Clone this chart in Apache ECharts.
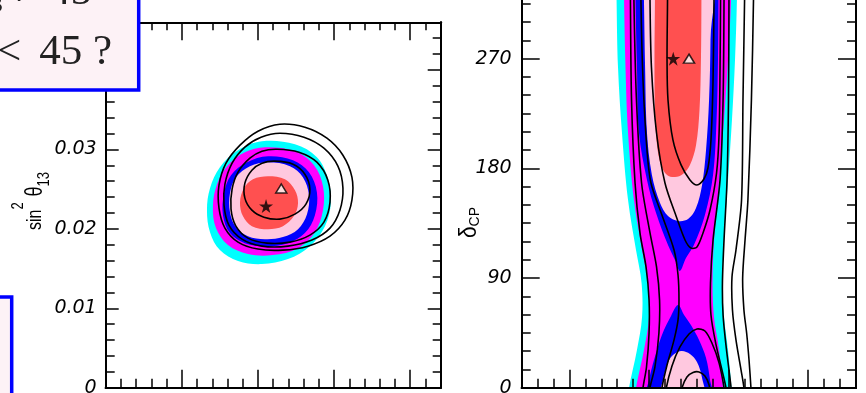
<!DOCTYPE html>
<html>
<head>
<meta charset="utf-8">
<script src="https://cdn.jsdelivr.net/npm/echarts@6/dist/echarts.min.js"></script>
<style>
  html, body { margin: 0; padding: 0; background: #ffffff; }
  #chart { width: 866px; height: 393px; }
</style>
</head>
<body>
<div id="chart"></div>
<script>
// ---------- axes ----------
const t23RangeL = [35, 57];          // theta23 (deg), left panel
const t23RangeR = [37, 58];          // theta23 (deg), right panel
const s13Range = [0, 0.046];         // sin^2 theta13
const dcpRange = [0, 360];           // delta_CP (deg)
const t23MajorL = [35, 40, 45, 50, 55];
const t23MajorR = [40, 45, 50, 55];
const s13Ticks = [0, 0.01, 0.02, 0.03, 0.04];
const s13Labels = ['0', '0.01', '0.02', '0.03', '0.04'];
const dcpTicks = [0, 90, 180, 270, 360];
const dcpLabelTicks = [0, 90, 180, 270];
const dcpLabels = ['0', '90', '180', '270'];

// ---------- left panel: sin^2 theta13 vs theta23 ----------
const cyanL = [[45.26,0.03103],[47.43,0.03065],[48.87,0.02902],[49.59,0.02638],[49.79,0.02336],[49.40,0.02034],[48.41,0.01782],[46.97,0.01619],[45.26,0.01556],[43.69,0.01594],[42.50,0.01732],[41.85,0.01958],[41.65,0.02235],[41.85,0.02512],[42.50,0.02776],[43.69,0.02990]];
const magentaL = [[45.46,0.03028],[47.43,0.02977],[48.68,0.02801],[49.27,0.02537],[49.27,0.02235],[48.74,0.01958],[47.63,0.01757],[45.98,0.01669],[44.34,0.01682],[43.03,0.01795],[42.24,0.02009],[42.04,0.02285],[42.31,0.02562],[43.03,0.02801],[44.14,0.02965]];
const blueL = [[45.66,0.02914],[47.30,0.02864],[48.35,0.02713],[48.87,0.02462],[48.74,0.02172],[48.08,0.01946],[46.97,0.01820],[45.52,0.01782],[44.14,0.01820],[43.16,0.01946],[42.70,0.02172],[42.77,0.02449],[43.23,0.02675],[44.28,0.02839]];
const pinkL = [[45.66,0.02839],[47.10,0.02789],[47.95,0.02650],[48.35,0.02424],[48.22,0.02185],[47.63,0.01996],[46.64,0.01896],[45.46,0.01870],[44.34,0.01908],[43.55,0.02021],[43.16,0.02210],[43.16,0.02449],[43.55,0.02650],[44.47,0.02789]];
const redL = [[45.66,0.02663],[46.77,0.02625],[47.43,0.02487],[47.63,0.02323],[47.36,0.02160],[46.64,0.02034],[45.66,0.01996],[44.60,0.02034],[44.01,0.02160],[43.82,0.02336],[44.08,0.02512],[44.67,0.02625]];
const loop1L = [[46.44,0.03317],[48.08,0.03279],[49.53,0.03141],[50.58,0.02927],[51.17,0.02650],[51.17,0.02361],[50.71,0.02109],[49.73,0.01908],[48.28,0.01782],[46.64,0.01732],[45.00,0.01745],[43.69,0.01833],[42.83,0.02009],[42.44,0.02260],[42.44,0.02550],[42.90,0.02826],[43.82,0.03053],[45.00,0.03229]];
const loop2L = [[46.44,0.03204],[48.02,0.03153],[49.33,0.03015],[50.25,0.02789],[50.58,0.02512],[50.38,0.02235],[49.73,0.02009],[48.54,0.01858],[46.97,0.01782],[45.26,0.01782],[43.95,0.01870],[43.09,0.02046],[42.77,0.02298],[42.83,0.02562],[43.30,0.02826],[44.14,0.03028],[45.20,0.03153]];
const loop3L = [[46.25,0.03002],[47.69,0.02965],[48.87,0.02839],[49.59,0.02613],[49.73,0.02336],[49.33,0.02084],[48.41,0.01921],[47.10,0.01833],[45.59,0.01820],[44.34,0.01883],[43.55,0.02034],[43.23,0.02248],[43.30,0.02499],[43.69,0.02713],[44.47,0.02889],[45.26,0.02977]];
const loop4L = [[46.11,0.02852],[47.30,0.02814],[48.08,0.02688],[48.41,0.02499],[48.15,0.02311],[47.43,0.02185],[46.44,0.02122],[45.39,0.02147],[44.60,0.02235],[44.14,0.02386],[44.14,0.02575],[44.60,0.02738],[45.26,0.02826]];
const bestFitL = [45.53, 0.02286];
const altFitL = [46.53, 0.02508];

// ---------- right panel: delta_CP vs theta23 ----------
const cyanR = [[42.92,360],[42.96,318],[43.05,263],[43.30,209],[43.68,154],[44.18,113],[44.53,86],[44.56,58],[44.24,31],[43.74,0],[43.68,-10],[50.21,-10],[50.18,0],[49.96,31],[49.71,58],[49.61,86],[49.71,121],[49.96,170],[50.21,220],[50.40,269],[50.52,318],[50.56,360]];
const magentaR = [[43.39,360],[43.43,318],[43.52,263],[43.68,209],[44.05,154],[44.56,113],[44.93,86],[45.00,58],[44.68,31],[44.18,0],[44.12,-10],[49.71,-10],[49.65,0],[49.40,31],[49.08,58],[48.99,86],[49.08,121],[49.40,170],[49.71,220],[49.96,269],[50.15,318],[50.18,360]];
const blueRUp = [[44.12,360],[44.15,318],[44.24,263],[44.37,209],[44.87,170.5],[45.44,143.4],[46.19,117.1],[46.69,103.2],[46.94,95.8],[47.32,106.4],[47.82,117.1],[48.51,141.7],[49.02,174.6],[49.24,219.7],[49.33,268.9],[49.36,318],[49.36,360]];
const blueRLow = [[46.82,67.9],[47.20,59.7],[47.63,51.5],[48.14,39.2],[48.58,24.4],[48.83,6.3],[48.95,-10],[44.81,-10],[45.00,6.3],[45.31,22.7],[45.81,43.3],[46.38,58.9]];
const pinkRUp = [[44.62,360],[44.68,318],[44.75,263],[44.87,209],[45.18,174.6],[45.69,151.6],[46.19,140.9],[46.82,136.8],[47.45,138.4],[47.95,147.5],[48.33,166.4],[48.58,195.1],[48.77,236.1],[48.86,285.4],[48.89,360]];
const pinkRLow = [[46.44,26.0],[47.01,30.1],[47.57,27.7],[48.01,21.1],[48.33,8.0],[48.45,-10],[45.69,-10],[45.88,6.3],[46.13,18.6]];
const redR = [[45.37,360],[45.37,318],[45.34,269],[45.37,228],[45.50,199],[45.75,182.8],[46.13,174.6],[46.63,172.9],[47.13,175.4],[47.57,182.8],[47.95,199],[48.17,228],[48.26,269],[48.29,318],[48.29,360]];
const lineRA = [[43.83,360],[43.83,318],[43.90,236],[44.12,168],[44.43,127],[44.81,99.1],[45.00,72.0],[45.00,44.9],[44.84,17.0],[44.62,0],[44.56,-10]];
const lineRB = [[44.05,360],[44.05,318],[44.21,236],[44.53,168],[45.06,127],[45.47,99.1],[45.66,72.0],[45.62,44.9],[45.37,17.0],[45.06,0],[45.00,-10]];
const lineRC = [[44.49,360],[44.49,318],[44.62,252.5],[44.87,195.1],[45.12,168.0],[45.81,141.7],[46.57,113.0],[46.82,92.5],[46.88,72.0],[46.82,55.6],[46.57,39.2],[46.13,18.6],[45.81,0],[45.75,-10]];
const loopRU2 = [[45.06,360],[45.06,318],[45.15,263],[45.47,209],[46.00,168],[46.72,140.1],[47.26,121.2],[47.63,114.6],[48.01,115.5],[48.39,127.0],[48.83,145.8],[49.24,176.2],[49.40,209],[49.46,263],[49.49,318],[49.49,360]];
const loopRU1 = [[46.16,360],[46.16,318],[46.13,268.9],[46.19,236.1],[46.50,203.3],[47.01,182.8],[47.57,170.5],[48.01,166.4],[48.45,171.3],[48.70,180.3],[48.89,203.3],[49.02,252.5],[49.08,318],[49.08,360]];
const lineRR1 = [[49.71,360],[49.71,318],[49.65,236.1],[49.46,170.5],[49.02,121.2],[48.86,85.9],[48.89,59.7],[49.21,35.1],[49.58,14.5],[49.83,0],[49.90,-10]];
const lineRR2 = [[50.02,360],[50.02,318],[49.99,236.1],[49.90,170.5],[49.71,121.2],[49.61,85.9],[49.65,59.7],[49.83,35.1],[50.02,14.5],[50.15,0],[50.18,-10]];
const lineRW1 = [[51.03,360],[51.00,318],[50.90,236.1],[50.81,154.0],[50.46,113.0],[50.21,90.9],[50.24,63.8],[50.46,39.2],[50.78,14.5],[50.96,0],[51.00,-10]];
const lineRW2 = [[51.59,360],[51.56,318],[51.43,236.1],[51.21,154.0],[51.03,121.2],[50.88,90.0],[50.96,63.8],[51.13,44.9],[51.28,22.7],[51.40,0],[51.43,-10]];
const loopRL1 = [[46.06,-10],[46.06,-1.8],[46.44,17.8],[46.94,33.4],[47.51,44.1],[48.01,48.2],[48.51,46.5],[48.95,36.7],[49.40,20.3],[49.71,0],[49.77,-10]];
const loopRL2 = [[46.94,-10],[47.07,0],[47.38,8.8],[47.76,12.5],[48.14,12.9],[48.51,9.6],[48.77,2.2],[48.89,-10]];
const bestFitR = [46.52, 270];
const altFitR = [47.51, 270];

// ---------- styling ----------
const C_CYAN = '#00ffff', C_MAGENTA = '#ff00ff', C_BLUE = '#0000ff', C_PINK = '#ffc8df', C_RED = '#ff5050';
const STAR = 'path://M50,2 L61,36 L97,36 L68,57 L79,92 L50,70 L21,92 L32,57 L3,36 L39,36 Z';
const TICK_FONT = { fontFamily: 'DejaVu Sans', fontStyle: 'italic', fontSize: 19, color: '#000' };

function axis(gridIndex, position, range, extra) {
  return Object.assign({
    type: 'value', gridIndex, position, min: range[0], max: range[1], z: 10,
    axisLine: { show: true, onZero: false, lineStyle: { color: '#000', width: 2 } },
    splitLine: { show: false },
    axisLabel: { show: false }
  }, extra);
}
function ticks(len, values) {
  const t = { show: true, inside: true, length: len, lineStyle: { color: '#000', width: 1.5 } };
  if (values) t.customValues = values;
  return t;
}
function labels(values, texts, margin) {
  return Object.assign({
    show: true, customValues: values, margin,
    formatter: (v) => {
      const i = values.findIndex((t) => Math.abs(t - v) < 1e-9);
      return i < 0 ? '' : texts[i];
    }
  }, TICK_FONT);
}

function area(ax, pts, color) {
  return {
    type: 'custom', xAxisIndex: ax, yAxisIndex: ax, clip: true, silent: true, z: 2,
    data: [pts[0]],
    renderItem: (params, api) => ({
      type: 'polygon',
      shape: { points: pts.map((p) => api.coord(p)), smooth: 0.35 },
      style: { fill: color, stroke: 'none' }
    })
  };
}
function curve(ax, pts, closed) {
  return {
    type: 'custom', xAxisIndex: ax, yAxisIndex: ax, clip: true, silent: true, z: 4,
    data: [pts[0]],
    renderItem: (params, api) => ({
      type: closed ? 'polygon' : 'polyline',
      shape: { points: pts.map((p) => api.coord(p)), smooth: 0.3 },
      style: { fill: 'none', stroke: '#000', lineWidth: 1.6 }
    })
  };
}
function markers(ax, best, alt) {
  return [
    { type: 'scatter', xAxisIndex: ax, yAxisIndex: ax, silent: true, z: 6, data: [best],
      symbol: STAR, symbolSize: 14, itemStyle: { color: '#000' } },
    { type: 'scatter', xAxisIndex: ax, yAxisIndex: ax, silent: true, z: 6, data: [alt],
      symbol: 'triangle', symbolSize: [11, 9], itemStyle: { color: '#fff', borderColor: '#000', borderWidth: 1.5 } }
  ];
}

const option = {
  animation: false,
  backgroundColor: '#ffffff',
  grid: [
    { left: 105.7, top: 22.3, width: 335, height: 365.4, outerBoundsMode: 'none', containLabel: false },
    { left: 521.7, top: -51, width: 334.3, height: 438.7, outerBoundsMode: 'none', containLabel: false }
  ],
  xAxis: [
    axis(0, 'bottom', t23RangeL, { interval: 1, axisTick: ticks(9) }),
    axis(0, 'bottom', t23RangeL, { axisTick: ticks(18, t23MajorL) }),
    axis(0, 'top', t23RangeL, { interval: 1, axisTick: ticks(8) }),
    axis(0, 'top', t23RangeL, { axisTick: ticks(18, t23MajorL) }),
    axis(1, 'bottom', t23RangeR, { interval: 1, axisTick: ticks(9) }),
    axis(1, 'bottom', t23RangeR, { axisTick: ticks(18, t23MajorR) }),
    axis(1, 'top', t23RangeR, { interval: 1, axisTick: ticks(9) }),
    axis(1, 'top', t23RangeR, { axisTick: ticks(18, t23MajorR) })
  ],
  yAxis: [
    axis(0, 'left', s13Range, { interval: 0.002, axisTick: ticks(9) }),
    axis(0, 'left', s13Range, { axisTick: ticks(13, s13Ticks), axisLabel: labels(s13Ticks, s13Labels, 9) }),
    axis(0, 'right', s13Range, { interval: 0.002, axisTick: ticks(8) }),
    axis(0, 'right', s13Range, { axisTick: ticks(13, s13Ticks) }),
    axis(1, 'left', dcpRange, { interval: 15, axisTick: ticks(9) }),
    axis(1, 'left', dcpRange, { axisTick: ticks(18, dcpTicks), axisLabel: labels(dcpLabelTicks, dcpLabels, 10) }),
    axis(1, 'right', dcpRange, { interval: 15, axisTick: ticks(9) }),
    axis(1, 'right', dcpRange, { axisTick: ticks(18, dcpTicks) })
  ],
  series: [
    area(0, cyanL, C_CYAN), area(0, magentaL, C_MAGENTA), area(0, blueL, C_BLUE),
    area(0, pinkL, C_PINK), area(0, redL, C_RED),
    curve(0, loop1L, true), curve(0, loop2L, true), curve(0, loop3L, true), curve(0, loop4L, true),
    ...markers(0, bestFitL, altFitL),

    area(4, cyanR, C_CYAN), area(4, magentaR, C_MAGENTA),
    area(4, blueRUp, C_BLUE), area(4, blueRLow, C_BLUE),
    area(4, pinkRUp, C_PINK), area(4, pinkRLow, C_PINK),
    area(4, redR, C_RED),
    curve(4, lineRA), curve(4, lineRB), curve(4, lineRC),
    curve(4, loopRU2), curve(4, loopRU1),
    curve(4, lineRR1), curve(4, lineRR2), curve(4, lineRW1), curve(4, lineRW2),
    curve(4, loopRL1), curve(4, loopRL2),
    ...markers(4, bestFitR, altFitR)
  ],
  graphic: [
    // axis titles
    { type: 'text', z: 50, x: 35.5, y: 201, rotation: Math.PI / 2, scaleY: 1.3,
      style: { text: '{a|sin}{p|2}{g| }{t|θ}{b|13}', textAlign: 'center', textVerticalAlign: 'middle',
        rich: {
          a: { fontFamily: 'Liberation Sans', fontSize: 16, fill: '#000', verticalAlign: 'middle' },
          t: { fontFamily: 'Liberation Sans', fontSize: 18, fill: '#000', verticalAlign: 'middle' },
          g: { fontFamily: 'Liberation Sans', fontSize: 16, fill: '#000', verticalAlign: 'middle', width: 6 },
          p: { fontFamily: 'Liberation Sans', fontSize: 13, fill: '#000', verticalAlign: 'middle', padding: [0, 0, 27, 0] },
          b: { fontFamily: 'Liberation Sans', fontSize: 13, fill: '#000', verticalAlign: 'middle', padding: [13, 0, 0, 0] }
        } } },
    { type: 'text', z: 50, x: 470, y: 222.5, rotation: Math.PI / 2, scaleY: 1.1,
      style: { text: '{d|δ}{c|CP}', textAlign: 'center', textVerticalAlign: 'middle',
        rich: {
          d: { fontFamily: 'Liberation Sans', fontSize: 21, fill: '#000', verticalAlign: 'middle' },
          c: { fontFamily: 'Liberation Sans', fontSize: 14, fill: '#000', verticalAlign: 'middle', padding: [9, 0, 0, 0] }
        } } },
    // question boxes
    { type: 'rect', z: 100, shape: { x: -10, y: -10, width: 148.7, height: 100 },
      style: { fill: '#fdf2f6', stroke: '#0000ff', lineWidth: 3.5 } },
    { type: 'text', z: 101, x: 92, y: -7,
      style: { text: 'θ₂₃ ≠ 45', font: '43px "Liberation Serif"', fill: '#222', textAlign: 'right', textVerticalAlign: 'middle' } },
    { type: 'text', z: 101, x: 112, y: 53,
      style: { text: 'θ₂₃ < \u200645 ?', font: '43px "Liberation Serif"', fill: '#222', textAlign: 'right', textVerticalAlign: 'middle' } },
    { type: 'rect', z: 100, shape: { x: -10, y: 297, width: 21.7, height: 120 },
      style: { fill: '#fdf2f6', stroke: '#0000ff', lineWidth: 3.5 } }
  ]
};

const chart = echarts.init(document.getElementById('chart'), null, { renderer: 'canvas' });
chart.setOption(option);
</script>
</body>
</html>
